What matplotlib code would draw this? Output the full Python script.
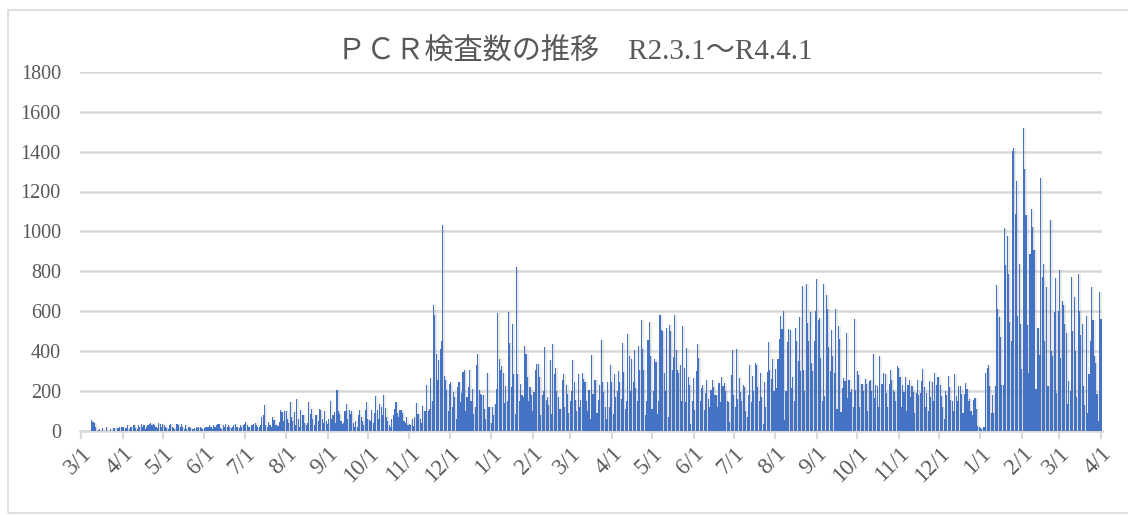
import matplotlib
matplotlib.use("Agg")
import matplotlib.pyplot as plt
from matplotlib.patches import Rectangle
import numpy as np
import pandas as pd

# ---- data (daily PCR test counts, R2.3.1 - R4.4.1) ----
mar20 = [0,0,0,0,0,0,0,0,55,43,38,17,0,5,9,0,14,0,0,17,0,0,9,0,12,14,0,14,12,17,20]
apr20 = [17,20,12,14,26,10,17,20,26,26,12,8,26,20,34,20,26,10,20,26,31,38,29,31,26,17,12,39,31,20]
may20 = [34,26,20,14,9,26,34,20,14,8,34,31,26,20,31,17,10,26,9,17,20,14,10,9,14,20,14,17,20,12,10]
jun20 = [14,17,20,17,26,20,10,26,20,26,31,34,14,10,26,20,31,20,26,17,12,20,26,31,20,17,14,26,20,26]
jul20 = [35,43,26,20,17,30,26,34,38,26,20,17,30,68,77,127,30,17,42,26,20,68,55,30,26,25,43,101,93,50,96]
aug20 = [96,60,40,142,68,50,93,30,160,60,20,101,80,76,40,30,40,142,85,106,60,30,76,76,50,110,105,60,40,96,50]
sep20 = [35,60,147,59,80,93,40,203,96,85,50,35,40,100,132,60,105,85,96,40,17,50,20,80,101,68,50,30,105,142]
oct20 = [60,55,50,105,40,88,172,105,60,135,118,80,177,115,68,50,30,20,60,80,106,143,90,68,105,105,88,50,40,68,30]
nov20 = [35,30,60,25,70,138,85,85,60,40,125,96,96,228,98,109,265,150,630,580,383,252,356,407,449,1033,272,252,202,100]
dec20 = [235,244,120,193,168,60,218,244,143,190,294,302,100,168,218,302,150,210,84,120,328,386,202,185,176,176,109,60,289,118,118]
jan21 = [40,118,80,134,210,591,361,306,322,289,138,222,150,596,437,218,534,286,84,823,286,150,232,176,168,423,383,269,150,218,176]
feb21 = [100,193,306,336,336,269,76,176,200,420,155,168,130,356,84,433,286,316,200,168,109,109,255,286,120,227,185,90]
mar21 = [150,200,356,244,155,100,286,120,155,289,260,244,150,100,202,59,378,185,252,252,90,155,227,454,245,194,120,60,245,118,329]
apr21 = [245,84,284,169,200,300,245,160,439,295,110,150,486,375,200,360,245,405,211,150,425,304,557,408,304,76,150,456,544,375]
may21 = [110,200,358,346,84,150,582,506,498,287,200,515,68,532,498,304,371,582,405,304,287,329,150,523,312,143,413,270,228,34,150]
jun21 = [262,101,300,435,363,150,211,228,105,186,253,160,120,203,253,219,177,177,120,236,143,270,223,236,200,150,143,42,280,405]
jul21 = [177,120,408,160,262,194,150,228,219,100,68,180,329,143,273,200,338,329,219,150,287,169,34,245,120,295,442,304,257,358,200]
aug21 = [310,212,361,461,573,508,602,51,200,444,508,505,212,271,150,517,449,347,568,300,725,302,200,737,542,449,593,339,300,450,600]
sep21 = [759,556,563,364,150,737,173,681,610,420,300,505,373,288,610,110,525,458,93,212,263,250,488,161,254,195,207,120,559,203]
oct21 = [297,280,120,234,234,200,258,234,100,251,254,200,386,161,229,224,120,376,234,234,288,283,186,120,234,305,254,203,195,150,322]
nov21 = [314,271,120,229,195,268,100,229,254,170,224,195,90,186,254,178,186,251,308,220,120,186,100,251,166,246,150,288,229,271]
dec21 = [271,229,173,120,60,200,180,275,218,153,148,97,282,173,150,224,224,182,90,182,240,207,148,156,97,80,151,165,106,22,20]
jan22 = [15,10,20,20,290,316,328,224,90,178,89,224,731,610,568,467,229,229,1018,829,975,787,546,450,1405,1417,1089,1252,576,834,534]
feb22 = [308,1517,1311,1081,531,291,887,1114,1022,908,207,207,514,380,1266,770,834,450,723,224,224,1059,397,375,593,766,190,600]
mar22 = [807,366,649,630,534,492,131,250,198,770,501,669,400,168,787,600,481,534,224,130,576,89,282,450,719,556,375,338,182,47,694]
apr22 = [560]

months = [mar20, apr20, may20, jun20, jul20, aug20, sep20, oct20, nov20, dec20,
          jan21, feb21, mar21, apr21, may21, jun21, jul21, aug21, sep21, oct21, nov21, dec21,
          jan22, feb22, mar22, apr22]
values = [v for m in months for v in m]

dates = pd.date_range("2020-03-01", "2022-04-01", freq="D")
assert len(dates) == len(values), (len(dates), len(values))

title = "ＰＣＲ検査数の推移　R2.3.1～R4.4.1"
yticks = [0, 200, 400, 600, 800, 1000, 1200, 1400, 1600, 1800]

# ---- styling ----
GRID = "#D9D9D9"
TXT = "#595959"
BAR = "#4472C4"
SERIF = ["Liberation Serif", "Noto Sans CJK JP"]

fig = plt.figure(figsize=(11.28, 5.15), dpi=100)
fig.patches.append(Rectangle((8/1128, 2/515), 1.2, 503/515, transform=fig.transFigure,
                             fill=False, edgecolor=GRID, linewidth=1.2))

ax = fig.add_axes([80.3/1128, 1 - 430.5/515, (1101.7-80.3)/1128, (430.5-72)/515])
x = np.arange(len(values))
# soft shadow like Excel effect
ax.bar(x + 0.7, values, width=2.4, color="#7F7F7F", alpha=0.14, linewidth=0, zorder=2)
ax.bar(x, values, width=0.82, color=BAR, linewidth=0, zorder=3)

ax.set_xlim(-0.5, len(values) - 0.5)
ax.set_ylim(0, 1800)
ax.set_yticks(yticks)
ax.set_yticklabels([str(t) for t in yticks], family=SERIF, fontsize=14.5, color=TXT)
ax.yaxis.grid(True, color=GRID, linewidth=1.8, zorder=0)
ax.set_axisbelow(True)
ax.tick_params(axis="y", length=0, pad=14)

month_starts = [i for i, d in enumerate(dates) if d.day == 1]
month_labels = [f"{d.month}/1" for d in dates if d.day == 1]
ax.set_xticks(month_starts)
ax.set_xticklabels(month_labels, rotation=45, ha="right", rotation_mode="anchor",
                   family=SERIF, fontsize=16.5, color=TXT)
ax.tick_params(axis="x", direction="out", length=6, width=1.5, color=GRID, pad=3)

for s in ["top", "right", "left"]:
    ax.spines[s].set_visible(False)
ax.spines["bottom"].set_color(GRID)
ax.spines["bottom"].set_linewidth(1.8)

fig.text(0.51, 1 - 52/515, title, ha="center", va="center", fontsize=21, color=TXT,
         family=SERIF)

fig.savefig("out.png", dpi=100)
